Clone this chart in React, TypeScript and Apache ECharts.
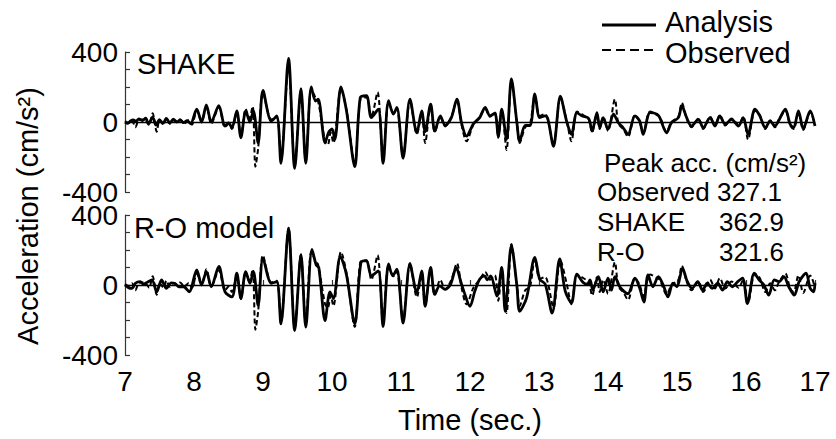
import React, { useEffect, useRef } from "react";
import * as echarts from "echarts";

// Time (sec.) / acceleration (cm/s^2)
const observedPoints: [number, number][] = [
  [7.0, 5], [7.05, -5], [7.1, 10], [7.15, -30], [7.2, 12], [7.25, 15], [7.3, 10], [7.35, -15],
  [7.4, 50], [7.46, -55], [7.5, 10], [7.56, -15], [7.6, 25], [7.65, -10], [7.7, 10], [7.75, 5],
  [7.8, 15], [7.86, -10], [7.92, 10], [7.97, -15], [8.04, 65], [8.11, 5], [8.18, 90], [8.25, -10],
  [8.36, 85], [8.45, -30], [8.5, -10], [8.55, -40], [8.62, 55], [8.68, -80], [8.75, 75], [8.8, 20],
  [8.85, 90], [8.89, -255], [8.93, -150], [9.0, 170], [9.12, 15], [9.2, 25], [9.26, -220],
  [9.37, 327.1], [9.46, -250], [9.55, 175], [9.62, -225], [9.7, 190], [9.76, 140], [9.8, 115],
  [9.9, -110], [9.94, -130], [9.98, -60], [10.02, -120], [10.13, 190], [10.21, 70], [10.33, -240],
  [10.41, 130], [10.5, 140], [10.57, 30], [10.66, 170], [10.74, -220], [10.82, 115], [10.89, 50],
  [10.94, 75], [11.03, -200], [11.13, 125], [11.23, -70], [11.3, 55], [11.35, -120], [11.43, 95],
  [11.49, -60], [11.57, 30], [11.64, -25], [11.73, 30], [11.81, 125], [11.88, -20], [11.95, -110],
  [12.05, -15], [12.14, 30], [12.22, 75], [12.29, 30], [12.36, 55], [12.41, -90], [12.46, 65],
  [12.53, -160], [12.6, 235], [12.68, 0], [12.72, -120], [12.8, -30], [12.87, -10], [12.94, 150],
  [13.01, 35], [13.09, 45], [13.13, 10], [13.21, -130], [13.31, 140], [13.4, 10], [13.47, -110],
  [13.55, 60], [13.62, 45], [13.72, 15], [13.77, -60], [13.84, 45], [13.88, -40], [13.93, 30],
  [14.0, -50], [14.1, 130], [14.15, -10], [14.22, -40], [14.29, -85], [14.39, 40], [14.46, 0],
  [14.51, -65], [14.61, 60], [14.71, 40], [14.75, 30], [14.85, -55], [14.92, 0], [15.02, 30],
  [15.07, 110], [15.14, 20], [15.21, -30], [15.31, 20], [15.38, -40], [15.48, 30], [15.55, -20],
  [15.62, 40], [15.7, -20], [15.79, 20], [15.89, -15], [15.96, 30], [16.03, -100], [16.13, 65],
  [16.2, 40], [16.28, -40], [16.35, 10], [16.42, -30], [16.47, 10], [16.57, 65], [16.64, -20],
  [16.69, -40], [16.76, 55], [16.83, -45], [16.93, 55], [17.0, -15],
];

const shakePoints: [number, number][] = [
  [7.0, 0], [7.04, -8], [7.08, 6], [7.12, 12], [7.16, 4], [7.2, 18], [7.25, 8], [7.3, 22],
  [7.34, -12], [7.4, 28], [7.45, -18], [7.5, 14], [7.55, -8], [7.6, 20], [7.65, -6], [7.7, 16],
  [7.75, 0], [7.8, 12], [7.85, -4], [7.9, 8], [7.95, -10], [8.04, 73], [8.11, 0], [8.18, 97],
  [8.25, 0], [8.36, 93], [8.45, -23], [8.5, -5], [8.55, -33], [8.62, 64], [8.68, -90], [8.75, 64],
  [8.81, 0], [8.86, 64], [8.93, -120], [9.0, 180], [9.12, 5], [9.2, 35], [9.26, -236],
  [9.37, 362.9], [9.46, -265], [9.55, 190], [9.62, -236], [9.7, 200], [9.76, 120], [9.8, 130],
  [9.9, -120], [9.95, -60], [10.0, -40], [10.04, -100], [10.13, 200], [10.21, 64], [10.33, -255],
  [10.41, 140], [10.5, 150], [10.57, 25], [10.67, 73], [10.74, -236], [10.82, 122], [10.89, 45],
  [10.94, 83], [11.03, -207], [11.13, 131], [11.23, -62], [11.3, 64], [11.35, -55], [11.43, 102],
  [11.49, -52], [11.57, 35], [11.64, -20], [11.73, 25], [11.81, 131], [11.88, -10], [11.95, -81],
  [12.05, -10], [12.14, 25], [12.22, 83], [12.29, 35], [12.36, 50], [12.41, -81], [12.46, 73],
  [12.53, -100], [12.6, 247], [12.68, -5], [12.72, -110], [12.8, -20], [12.87, -20], [12.94, 160],
  [13.01, 25], [13.09, 35], [13.13, 15], [13.21, -139], [13.31, 147], [13.4, 5], [13.47, -71],
  [13.55, 54], [13.62, 35], [13.72, 20], [13.77, -52], [13.84, 54], [13.88, -33], [13.93, 25],
  [14.0, -42], [14.08, 45], [14.15, -4], [14.22, -33], [14.29, -71], [14.39, 35], [14.46, 5],
  [14.51, -71], [14.61, 54], [14.71, 45], [14.75, 25], [14.85, -62], [14.92, -4], [15.02, 25],
  [15.07, 93], [15.14, 25], [15.21, -23], [15.31, 15], [15.38, -33], [15.48, 25], [15.55, -23],
  [15.62, 35], [15.7, -13], [15.79, 15], [15.89, -23], [15.96, 25], [16.03, -71], [16.13, 73],
  [16.2, 35], [16.28, -33], [16.35, 5], [16.42, -23], [16.47, 5], [16.57, 73], [16.64, -13],
  [16.69, -33], [16.76, 64], [16.83, -39], [16.93, 64], [17.0, -23],
];

const roPoints: [number, number][] = [
  [7.0, 0], [7.05, -15], [7.1, -19], [7.15, 10], [7.22, 19], [7.27, 5], [7.32, 15], [7.39, 29],
  [7.46, -39], [7.53, 29], [7.6, -19], [7.67, 12], [7.72, 10], [7.78, -10], [7.85, -10],
  [7.93, -39], [8.04, 87], [8.11, 0], [8.18, 77], [8.25, -10], [8.36, 106], [8.45, -39],
  [8.55, -68], [8.62, 68], [8.68, -77], [8.75, 77], [8.81, 10], [8.86, 77], [8.93, -116],
  [9.0, 154], [9.12, 10], [9.2, 19], [9.26, -222], [9.37, 321.6], [9.46, -260], [9.55, 174],
  [9.62, -241], [9.71, 203], [9.77, 116], [9.81, 97], [9.9, -203], [9.97, -39], [10.02, -77],
  [10.12, 164], [10.21, 58], [10.33, -222], [10.42, 129], [10.5, 139], [10.57, 52], [10.67, 81],
  [10.74, -237], [10.82, 120], [10.88, 52], [10.94, 91], [11.03, -218], [11.13, 120], [11.23, -44],
  [11.3, 81], [11.35, -122], [11.43, 100], [11.49, -54], [11.56, -5], [11.64, -25], [11.72, 5],
  [11.8, 100], [11.87, 14], [11.91, -35], [12.0, -122], [12.07, -35], [12.14, 33], [12.21, 52],
  [12.25, 30], [12.3, 52], [12.39, -64], [12.46, 100], [12.51, -150], [12.6, 226], [12.68, -5],
  [12.72, -150], [12.82, -73], [12.94, 158], [13.01, 33], [13.09, 5], [13.19, -160], [13.3, 149],
  [13.38, -35], [13.47, -102], [13.55, 62], [13.64, 14], [13.7, 5], [13.74, 29], [13.78, -29],
  [13.86, 48], [13.93, -39], [14.0, 39], [14.05, -29], [14.1, 48], [14.17, -10], [14.24, -39],
  [14.29, -50], [14.39, 39], [14.46, -19], [14.52, -97], [14.58, 58], [14.65, -10], [14.73, 48],
  [14.8, 0], [14.87, -68], [14.94, 10], [15.0, -10], [15.08, 97], [15.15, 19], [15.22, -19],
  [15.3, 19], [15.37, -29], [15.44, 10], [15.51, -19], [15.59, 10], [15.66, -29], [15.73, 19],
  [15.8, -10], [15.88, 19], [15.95, 39], [16.02, -106], [16.12, 68], [16.19, 29], [16.26, 0],
  [16.33, -58], [16.41, 29], [16.48, 19], [16.55, 48], [16.62, -10], [16.7, -58], [16.77, 19],
  [16.87, 68], [16.93, -19], [16.98, -39], [17.0, 10],
];

const yLabelValues = [-400, 0, 400];
const peakTitle = "Peak acc. (cm/s²)";
const peakRows: [string, string][] = [
  ["SHAKE", "362.9"],
  ["R-O", "321.6"],
];
const peakObserved = "Observed 327.1";

const FONT = '"Liberation Sans", Arial, Helvetica, sans-serif';

export default function App() {
  const ref = useRef<HTMLDivElement>(null);

  useEffect(() => {
    const chart = echarts.init(ref.current!, null, { renderer: "svg" });

    const yAxisCommon = {
      type: "value",
      min: -400,
      max: 400,
      interval: 100,
      axisLine: { show: true, lineStyle: { color: "#333", width: 1.2 } },
      axisTick: { show: true, inside: true, length: 5, lineStyle: { color: "#333", width: 1.2 } },
      axisLabel: {
        color: "#000",
        fontSize: 28,
        fontFamily: FONT,
        margin: 7,
        formatter: (v: number) => (yLabelValues.includes(v) ? String(v) : ""),
      },
      splitLine: { show: false },
    };

    const zeroLine = {
      silent: true,
      symbol: ["none", "none"],
      label: { show: false },
      lineStyle: { color: "#000", width: 1.3, type: "solid" },
      data: [{ yAxis: 0 }],
    };

    const analysisStyle = { color: "#000", width: 2.8 };
    const observedStyle = { color: "#000", width: 2, type: [5, 3] };

    const textEl = (text: string, x: number, y: number, size: number, extra: any = {}) => ({
      type: "text",
      x,
      y,
      ...extra,
      style: {
        text,
        fill: "#000",
        font: `${size}px ${FONT}`,
        textAlign: extra.align || "left",
        textVerticalAlign: "middle",
        align: extra.align || "left",
        verticalAlign: "middle",
      },
    });

    const graphic: any[] = [
      textEl("SHAKE", 137, 64, 29),
      textEl("R-O model", 134, 228, 29),
      textEl("Acceleration (cm/s²)", 28, 216, 29, { rotation: Math.PI / 2, align: "center" }),
      { type: "line", shape: { x1: 602, y1: 25, x2: 656, y2: 25 }, style: { stroke: "#000", lineWidth: 3 } },
      { type: "line", shape: { x1: 602, y1: 50, x2: 656, y2: 50 }, style: { stroke: "#000", lineWidth: 2, lineDash: [9, 5] } },
      textEl("Analysis", 665, 22, 29),
      textEl("Observed", 665, 53, 29),
      textEl(peakTitle, 604, 163, 26),
      textEl(peakObserved, 597, 192, 26),
    ];
    peakRows.forEach((r, i) => {
      graphic.push(textEl(r[0], 597, 222 + i * 30, 26));
      graphic.push(textEl(r[1], 719, 222 + i * 30, 26));
    });

    chart.setOption({
      animation: false,
      backgroundColor: "#fff",
      textStyle: { fontFamily: FONT },
      grid: [
        { left: 125, top: 52, width: 690, height: 140, outerBoundsMode: "none" },
        { left: 125, top: 215, width: 690, height: 140, outerBoundsMode: "none" },
      ],
      xAxis: [
        { type: "value", gridIndex: 0, min: 7, max: 17, interval: 1, show: false },
        {
          type: "value",
          gridIndex: 1,
          min: 7,
          max: 17,
          interval: 1,
          axisLine: { show: true, lineStyle: { color: "#333", width: 1.2 } },
          axisTick: { show: true, inside: true, length: 5, lineStyle: { color: "#333", width: 1.2 } },
          axisLabel: { color: "#000", fontSize: 28, fontFamily: FONT, margin: 12 },
          splitLine: { show: false },
          name: "Time (sec.)",
          nameLocation: "middle",
          nameGap: 50,
          nameTextStyle: { color: "#000", fontSize: 29, fontFamily: FONT },
        },
      ],
      yAxis: [
        { ...yAxisCommon, gridIndex: 0 },
        { ...yAxisCommon, gridIndex: 1 },
      ],
      series: [
        {
          name: "Observed", type: "line", xAxisIndex: 0, yAxisIndex: 0, data: observedPoints,
          showSymbol: false, symbol: "none", smooth: 0.3, lineStyle: observedStyle, z: 2,
        },
        {
          name: "Analysis", type: "line", xAxisIndex: 0, yAxisIndex: 0, data: shakePoints,
          showSymbol: false, symbol: "none", smooth: 0.3, lineStyle: analysisStyle, z: 3,
          markLine: zeroLine,
        },
        {
          name: "Observed", type: "line", xAxisIndex: 1, yAxisIndex: 1, data: observedPoints,
          showSymbol: false, symbol: "none", smooth: 0.3, lineStyle: observedStyle, z: 2,
        },
        {
          name: "Analysis", type: "line", xAxisIndex: 1, yAxisIndex: 1, data: roPoints,
          showSymbol: false, symbol: "none", smooth: 0.3, lineStyle: analysisStyle, z: 3,
          markLine: zeroLine,
        },
      ],
      graphic,
    });

    return () => chart.dispose();
  }, []);

  return (
    <div
      ref={ref}
      style={{ position: "fixed", left: 0, top: 0, width: 836, height: 439, background: "#fff" }}
    />
  );
}
